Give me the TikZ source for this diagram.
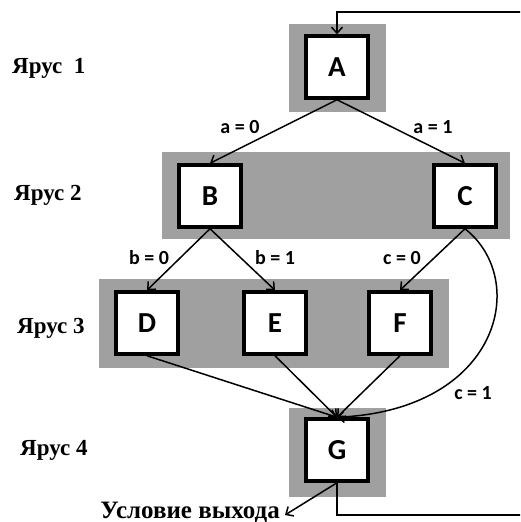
\documentclass[tikz,border=0pt]{standalone}
\usepackage{fontspec}
\setmainfont{Liberation Serif}
\newfontfamily\boxfont{Carlito}
\usetikzlibrary{arrows.meta}
\definecolor{tiergray}{RGB}{160,160,160}

\begin{document}
\begin{tikzpicture}[x=1pt,y=-1pt,
  tier/.style={fill=tiergray, draw=none},
  vbox/.style={draw, line width=3.5pt, fill=white, minimum width=62pt,
    minimum height=62pt, inner sep=0pt,
    font=\boxfont\bfseries\fontsize{29}{31}\selectfont},
  edge/.style={line width=1.5pt, -{Straight Barb[length=6pt,width=11pt]}},
  lbl/.style={font=\boxfont\bfseries\fontsize{20}{22}\selectfont, inner sep=0pt},
  tierlbl/.style={font=\bfseries\fontsize{23}{26}\selectfont, inner sep=0pt, anchor=west}]

\useasboundingbox (0,0) rectangle (520,522);
\clip (0,0) rectangle (520,522);

% shaded tiers
\fill[tier] (289,24) rectangle (386,112);
\fill[tier] (162,152) rectangle (510,239);
\fill[tier] (99,279) rectangle (449,368);
\fill[tier] (289,408) rectangle (386,497);

% tier captions
\node[tierlbl] (t1) at (12,68) {Ярус~~1};
\node[tierlbl] (t2) at (14,195) {Ярус 2};
\node[tierlbl] (t3) at (17,328) {Ярус 3};
\node[tierlbl] (t4) at (20,450) {Ярус 4};

% vertices
\node[vbox] (A) at (337,67) {A};
\node[vbox] (B) at (210,196) {B};
\node[vbox] (C) at (465,196) {C};
\node[vbox] (D) at (147,323) {D};
\node[vbox] (E) at (275,323) {E};
\node[vbox] (F) at (400,323) {F};
\node[vbox] (G) at (337,450) {G};

% transitions
\draw[edge] (A.south) -- (B.north);
\draw[edge] (A.south) -- (C.north);
\draw[edge] (B.south) -- (D.north);
\draw[edge] (B.south) -- (E.north);
\draw[edge] (C.south) -- (F.north);
\draw[edge] (D.south) -- (G.north);
\draw[edge] (E.south) -- (G.north);
\draw[edge] (F.south) -- (G.north);
\draw[edge] (C.south) .. controls (530,280) and (500,410) .. (G.north);

% transition conditions
\node[lbl] (la0) at (240,127) {a = 0};
\node[lbl] (la1) at (433,127) {a = 1};
\node[lbl] (lb0) at (149,258) {b = 0};
\node[lbl] (lb1) at (275,258) {b = 1};
\node[lbl] (lc0) at (402,258) {c = 0};
\node[lbl] (lc1) at (473,393) {c = 1};

% feedback loop from G back to A (its right side runs past the page edge)
\coordinate (loopBR) at (526,515);
\coordinate (loopTR) at (526,12);
\draw[edge] (G.south) |- (loopBR) -- (loopTR) -| (A.north);

% exit
\coordinate (exitTip) at (285,515);
\draw[edge] (G.south) -- (exitTip);
\node[font=\bfseries\fontsize{25}{28}\selectfont, inner sep=0pt, anchor=east] (exitLbl) at (280,512) {Условие выхода};

\end{tikzpicture}
\end{document}
